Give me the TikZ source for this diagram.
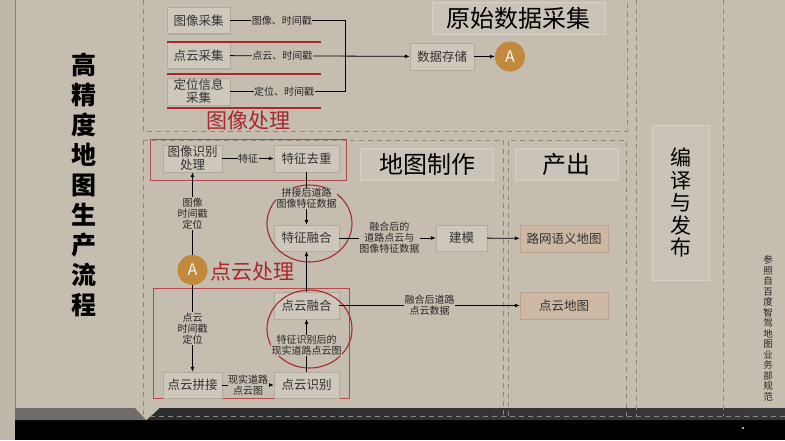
\documentclass[tikz,border=0pt]{standalone}
\usepackage{fontspec}
\setmainfont{Noto Sans CJK SC}
\usepackage{xcolor}
\usetikzlibrary{arrows.meta,shadows}

\definecolor{bgbeige}{HTML}{C5BDB0}
\definecolor{stripbeige}{HTML}{BEB6A9}
\definecolor{boxfill}{HTML}{CEC7BC}
\definecolor{boxline}{HTML}{B1AA9E}
\definecolor{outfill}{HTML}{CDB8A3}
\definecolor{outline}{HTML}{BCA38B}
\definecolor{titlefill}{HTML}{CAC3B7}
\definecolor{titleline}{HTML}{D6D0C6}
\definecolor{darkred}{HTML}{A8282C}
\definecolor{dashgray}{HTML}{8C877E}
\definecolor{aorange}{HTML}{C2883C}

\begin{document}
\begin{tikzpicture}[x=1pt,y=-1pt,>={Latex[length=5pt,width=4pt]},
  font=\fontsize{10}{11}\selectfont,
  box/.style={draw=boxline,fill=boxfill,minimum width=63pt,minimum height=26pt,
    inner sep=0.5pt,align=center,text=black!80,font=\fontsize{12.5}{13}\selectfont,
    drop shadow={shadow xshift=1pt,shadow yshift=-1pt,opacity=0.25}},
  outbox/.style={box,draw=outline,fill=outfill,minimum width=88pt,minimum height=27pt},
  titlebox/.style={draw=titleline,fill=titlefill,minimum height=32pt,
    font=\fontsize{24}{26}\selectfont},
  lbl/.style={fill=bgbeige,inner sep=0.5pt,align=center,text=black!85},
  anode/.style={circle,fill=aorange,text=white!90!bgbeige,minimum size=30pt,
    inner sep=0pt,font=\fontsize{16}{16}\selectfont},
  redtitle/.style={text=darkred,font=\fontsize{21}{22}\selectfont},
  redbox/.style={draw=darkred!85!white,line width=1pt},
  dashline/.style={dashgray,dashed,dash pattern=on 5pt off 4pt,line width=0.8pt},
  link/.style={line width=0.8pt}]
\useasboundingbox (0,0) rectangle (785,440);

% background and bottom bands
\fill[bgbeige] (0,0) rectangle (785,440);
\fill[stripbeige] (0,0) rectangle (15,440);
\draw[black!30!stripbeige] (15,0) -- (15,420);
\fill[black] (15,420) rectangle (785,440);
\fill[gray!85!bgbeige!80!black] (15,408) -- (135,408) -- (146,420) -- (15,420) -- cycle;
\fill[left color=black!65!gray,right color=black!55!gray] (160,408) -- (785,408) -- (785,420) -- (147,420) -- cycle;
\fill[white!80!gray] (743,428) circle (1.2);

% dashed frames
\draw[dashline] (143,0) -- (143,131) -- (627,131) -- (627,0);
\draw[dashline] (143,140) -- (143,418);
\draw[dashline] (143,140) -- (503,140) -- (503,416);
\draw[dashline] (508,416) -- (508,140) -- (626,140) -- (626,416);
\draw[dashline] (636,0) -- (636,416);
\draw[dashline] (723,0) -- (723,416);
\draw[dashline] (150,416) -- (785,416);

% side titles
\node[font=\fontsize{25}{30}\selectfont\bfseries,align=center] (maintitle) at (84,185)
  {高\\精\\度\\地\\图\\生\\产\\流\\程};
\node[draw=titleline,fill=titlefill,minimum width=57pt,minimum height=155pt,
  align=center,font=\fontsize{21}{22.5}\selectfont] (publish) at (681,202.5)
  {编\\译\\与\\发\\布};
\node[align=center,font=\fontsize{9.5}{10.5}\selectfont,text=black!85] (source) at (768,328.5)
  {参\\照\\自\\百\\度\\智\\驾\\地\\图\\业\\务\\部\\规\\范};

% raw data acquisition
\node[titlebox,minimum width=173pt] (raw) at (518.5,18) {原始数据采集};
\node[box] (imgcap) at (198.5,20.5) {图像采集};
\node[box] (pcdcap) at (198.5,55.5) {点云采集};
\node[box,minimum height=27pt] (loccap) at (198.5,91.5) {定位信息\\采集};
\node[box,minimum width=64pt,minimum height=27pt] (store) at (442,56.5) {数据存储};
\node[anode] (atop) at (510,56.5) {A};
\coordinate (jtop) at (345,20.5);
\coordinate (jbot) at (345,91.5);

\foreach \y in {42,74,108}{
  \draw[darkred,line width=1.6pt] (167,\y) -- (321,\y);
}
\node[redtitle] (imgproc) at (248,121) {图像处理};

\draw[link] (imgcap) -- node[lbl,pos=0.45] {图像、时间戳} (jtop) -- (jbot);
\draw[link] (loccap) -- node[lbl,pos=0.47] {定位、时间戳} (jbot);
\draw[link,->] (pcdcap) -- node[lbl,pos=0.29] {点云、时间戳} (store);
\draw[link,->] (store) -- (atop);

% map making
\node[titlebox,minimum width=133pt] (make) at (427,164) {地图制作};
\node[titlebox,minimum width=103pt] (outp) at (566.5,164) {产出};

\draw[redbox] (150,139) rectangle (346,180);
\node[box,minimum width=59pt,minimum height=27pt] (imgrec) at (192.5,158.5) {图像识别\\处理};
\node[box,minimum width=65pt,minimum height=27pt] (dedup) at (306.5,158.5) {特征去重};
\node[box,minimum width=65pt] (featfuse) at (306.5,238) {特征融合};
\node[box,minimum width=51pt] (model) at (461.5,238) {建模};
\node[outbox] (roadmap) at (564,238.5) {路网语义地图};
\node[anode] (amid) at (192.5,270) {A};
\node[redtitle] (pcdproc) at (252,272) {点云处理};

\draw[darkred,line width=1.1pt] (309.5,223.5) ellipse [x radius=42.5,y radius=38.5];

\draw[link,->] (imgrec) -- node[lbl] {特征} (dedup);
\draw[link,->] (dedup) -- node[lbl] {拼接后道路\\图像特征数据} (featfuse);
\draw[link,->] (featfuse) -- node[lbl,pos=0.52] {融合后的\\道路点云与\\图像特征数据} (model);
\draw[link,->] (model) -- (roadmap);
\draw[link,->] (amid) -- node[lbl] {图像\\时间戳\\定位} (imgrec);

% point cloud processing
\draw[redbox] (153,288) rectangle (349,398);
\node[box,minimum width=65pt,minimum height=27pt] (pcdfuse) at (306.5,305.5) {点云融合};
\node[box,minimum width=59pt] (stitch) at (192.5,385) {点云拼接};
\node[box,minimum width=65pt] (pcdrec) at (306.5,385) {点云识别};
\node[outbox] (pcdmap) at (564,305.5) {点云地图};

\draw[darkred,line width=1.1pt] (309.5,329) ellipse [x radius=42.5,y radius=39];

\draw[link,->] (amid) -- node[lbl] {点云\\时间戳\\定位} (stitch);
\draw[link,->] (stitch) -- node[lbl] {现实道路\\点云图} (pcdrec);
\draw[link,->] (pcdrec) -- node[lbl] {特征识别后的\\现实道路点云图} (pcdfuse);
\draw[link,->] (pcdfuse) -- (featfuse);
\draw[link,->] (pcdfuse) -- node[lbl] {融合后道路\\点云数据} (pcdmap);
\end{tikzpicture}
\end{document}
